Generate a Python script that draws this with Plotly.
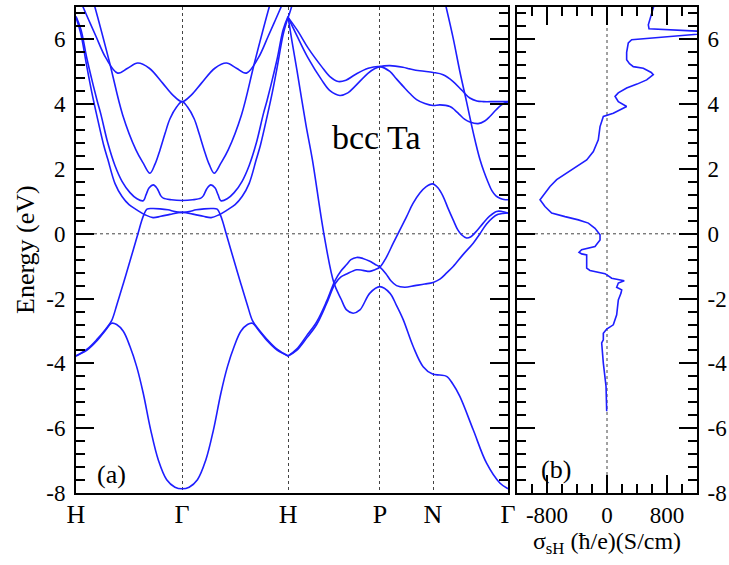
import plotly.graph_objects as go

# ---------------- data ----------------
K_POINTS = [0.0, 1.0, 2.0, 2.866, 3.366, 4.073]
K_LABELS = ["H", "Γ", "H", "P", "N", "Γ"]
E_TICKS = [-8, -6, -4, -2, 0, 2, 4, 6]
E_TICK_TEXT = ["-8", "-6", "-4", "-2", "0", "2", "4", "6"]
E_MINOR_STEP = 0.4
SIGMA_TICKS = [-800, 0, 800]
SIGMA_TICK_TEXT = ["-800", "0", "800"]
SIGMA_MINOR_STEP = 200

# bands along H-Γ-H  (k, E in eV)
band_A = [(0, -3.77), (0.101, -3.60), (0.198, -3.30), (0.273, -3.00), (0.336, -2.76), (0.383, -2.80),
          (0.446, -3.01), (0.509, -3.48), (0.572, -4.10), (0.634, -4.92), (0.704, -6.05), (0.776, -6.98),
          (0.855, -7.59), (0.933, -7.82), (1.0, -7.87), (1.067, -7.82), (1.145, -7.59), (1.224, -6.98),
          (1.296, -6.05), (1.366, -4.92), (1.428, -4.10), (1.491, -3.48), (1.554, -3.01), (1.617, -2.80),
          (1.664, -2.76), (1.727, -3.00), (1.802, -3.30), (1.899, -3.60), (2.0, -3.77)]
band_B = [(0, -3.77), (0.101, -3.57), (0.198, -3.26), (0.283, -2.93), (0.336, -2.68), (0.386, -2.18),
          (0.452, -1.47), (0.509, -0.84), (0.584, 0.0), (0.617, 0.38), (0.641, 0.60), (0.669, 0.76),
          (0.716, 0.78), (0.792, 0.77), (0.867, 0.74), (0.933, 0.69), (1.0, 0.66), (1.067, 0.69),
          (1.133, 0.74), (1.208, 0.77), (1.284, 0.78), (1.331, 0.76), (1.359, 0.60), (1.383, 0.38),
          (1.416, 0.0), (1.491, -0.84), (1.548, -1.47), (1.614, -2.18), (1.664, -2.68), (1.717, -2.93),
          (1.802, -3.26), (1.899, -3.57), (2.0, -3.77)]
band_C = [(0, 6.71), (0.047, 6.3), (0.1, 5.45), (0.15, 4.75), (0.2, 4.1), (0.236, 3.67), (0.3, 2.8),
          (0.368, 2.1), (0.434, 1.62), (0.509, 1.27), (0.575, 1.08), (0.634, 1.02), (0.66, 1.2),
          (0.69, 1.42), (0.729, 1.51), (0.765, 1.40), (0.80, 1.17), (0.823, 1.10), (0.9, 1.05),
          (1.0, 1.03), (1.1, 1.05), (1.177, 1.10), (1.2, 1.17), (1.235, 1.40), (1.271, 1.51),
          (1.31, 1.42), (1.34, 1.2), (1.366, 1.02), (1.425, 1.08), (1.491, 1.27), (1.566, 1.62),
          (1.632, 2.1), (1.7, 2.8), (1.764, 3.67), (1.8, 4.1), (1.85, 4.75), (1.9, 5.45), (1.953, 6.3),
          (2.0, 6.71)]
band_D = [(0, 6.68), (0.047, 6.15), (0.1, 5.2), (0.15, 4.35), (0.195, 3.67), (0.26, 2.75), (0.3, 2.3),
          (0.368, 1.55), (0.434, 1.15), (0.5, 0.9), (0.572, 0.74), (0.65, 0.59), (0.726, 0.50),
          (0.8, 0.54), (0.886, 0.60), (1.0, 0.66), (1.114, 0.60), (1.2, 0.54), (1.274, 0.50),
          (1.35, 0.59), (1.428, 0.74), (1.5, 0.9), (1.566, 1.15), (1.632, 1.55), (1.7, 2.3), (1.74, 2.75),
          (1.805, 3.67), (1.85, 4.35), (1.9, 5.2), (1.953, 6.15), (2.0, 6.68)]
band_E = [(0, 7.5), (0.057, 7.07), (0.12, 6.6), (0.189, 6.09), (0.283, 5.42), (0.393, 4.96),
          (0.487, 5.11), (0.582, 5.27), (0.691, 5.11), (0.817, 4.65), (0.911, 4.29), (1.0, 4.08),
          (1.089, 4.29), (1.183, 4.65), (1.309, 5.11), (1.418, 5.27), (1.513, 5.11), (1.607, 4.96),
          (1.717, 5.42), (1.811, 6.09), (1.88, 6.6), (1.943, 7.07), (2.0, 7.5)]
band_F = [(0.09, 7.95), (0.172, 7.07), (0.314, 5.32), (0.44, 3.67), (0.565, 2.59), (0.634, 2.18),
          (0.697, 1.87), (0.745, 2.15), (0.792, 2.59), (0.84, 3.1), (0.886, 3.55), (0.95, 3.92),
          (1.0, 4.08), (1.05, 3.92), (1.114, 3.55), (1.16, 3.1), (1.208, 2.59), (1.255, 2.15),
          (1.303, 1.87), (1.366, 2.18), (1.435, 2.59), (1.56, 3.67), (1.686, 5.32), (1.828, 7.07),
          (1.91, 7.95)]

# bands along H-P-N-Γ
band_J = [(2.0, 6.68), (2.036, 7.05), (2.075, 7.7)]
band_I = [(2.0, 6.68), (2.036, 5.95), (2.083, 5.05), (2.168, 3.36), (2.229, 2.28), (2.337, 0.0),
          (2.432, -1.52), (2.50, -2.02), (2.551, -2.35), (2.613, -2.45), (2.677, -2.35), (2.771, -1.83),
          (2.865, -1.63), (2.959, -1.83), (3.02, -2.2), (3.085, -2.65), (3.179, -3.48), (3.273, -4.10),
          (3.362, -4.33), (3.43, -4.36), (3.494, -4.40), (3.55, -4.62), (3.619, -5.02), (3.745, -6.05),
          (3.871, -7.08), (3.996, -7.69), (4.073, -7.87)]
band_HP_upper = [(2.0, -3.77), (2.08, -3.56), (2.174, -3.15), (2.269, -2.72), (2.363, -2.08),
                 (2.441, -1.45), (2.498, -1.15), (2.552, -0.95), (2.592, -0.80), (2.646, -0.73),
                 (2.705, -0.76), (2.771, -0.85), (2.818, -0.94), (2.865, -1.03), (2.922, -1.23),
                 (2.969, -1.45), (3.022, -1.60), (3.1, -1.65), (3.195, -1.60), (3.289, -1.55),
                 (3.367, -1.50), (3.431, -1.40), (3.497, -1.20), (3.556, -1.01), (3.647, -0.65),
                 (3.745, -0.29), (3.808, 0.0), (3.871, 0.30), (3.93, 0.50), (3.98, 0.60), (4.025, 0.63),
                 (4.073, 0.64)]
band_HP_lower = [(2.0, -3.77), (2.08, -3.60), (2.174, -3.22), (2.269, -2.80), (2.363, -2.15),
                 (2.441, -1.55), (2.498, -1.33), (2.552, -1.24), (2.646, -1.11), (2.705, -1.13),
                 (2.771, -1.16), (2.818, -1.11), (2.865, -1.03), (2.922, -0.75), (2.991, -0.29),
                 (3.054, 0.12), (3.117, 0.53), (3.176, 0.93), (3.242, 1.26), (3.299, 1.45), (3.362, 1.54),
                 (3.412, 1.42), (3.462, 1.15), (3.506, 0.80), (3.556, 0.43), (3.6, 0.12), (3.635, -0.03),
                 (3.682, -0.13), (3.723, -0.09), (3.77, 0.06), (3.839, 0.33), (3.902, 0.55), (3.965, 0.69),
                 (4.015, 0.69), (4.073, 0.64)]
band_G = [(2.0, 6.68), (2.095, 6.24), (2.189, 5.73), (2.316, 5.16), (2.394, 4.85), (2.472, 4.70),
          (2.545, 4.74), (2.63, 4.91), (2.755, 5.11), (2.865, 5.16), (2.959, 5.01), (3.016, 4.80),
          (3.085, 4.55), (3.148, 4.33), (3.211, 4.14), (3.289, 4.02), (3.367, 3.96), (3.431, 3.98),
          (3.525, 3.93), (3.572, 3.82), (3.619, 3.67), (3.666, 3.53), (3.713, 3.45), (3.791, 3.40),
          (3.854, 3.48), (3.902, 3.62), (3.959, 3.82), (4.012, 3.98), (4.073, 4.08)]
band_Hb = [(2.0, 6.68), (2.079, 6.14), (2.189, 5.42), (2.316, 4.75), (2.394, 4.42), (2.488, 4.27),
           (2.563, 4.35), (2.63, 4.55), (2.755, 4.96), (2.818, 5.10), (2.865, 5.16), (2.959, 5.19),
           (3.082, 5.14), (3.148, 5.09), (3.242, 5.03), (3.367, 4.98), (3.461, 4.91), (3.556, 4.70),
           (3.635, 4.44), (3.713, 4.19), (3.779, 4.10), (3.839, 4.08), (3.95, 4.08), (4.073, 4.08)]
band_K = [(3.468, 7.3), (3.556, 6.04), (3.619, 5.01), (3.682, 4.08), (3.729, 3.36), (3.77, 2.78),
          (3.808, 2.30), (3.846, 1.92), (3.884, 1.60), (3.921, 1.33), (3.959, 1.17), (3.996, 1.10),
          (4.034, 1.06), (4.073, 1.05)]

BANDS = [band_A, band_B, band_C, band_D, band_E, band_F, band_J, band_I,
         band_HP_upper, band_HP_lower, band_G, band_Hb, band_K]

# spin Hall conductivity (S/cm) vs energy (eV)
shc_sigma = [627, 590, 551, 560, 1500, 329, 284, 262, 262, 300, 351, 484, 590, 617, 529, 400, 262,
             150, 107, 129, 151, 262, 180, 84, -49, -93, -116, -182, -271, -404, -538, -671, -760,
             -849, -893, -827, -738, -560, -382, -249, -160, -93, -93, -160, -338, -373, -338, -271,
             -271, -227, -27, 18, 62, 230, 151, 129, 196, 187, 151, 129, 84, -4, -49, -49, -71, -49,
             -13, -4]
shc_energy = [7.05, 6.75, 6.45, 6.33, 6.22, 5.99, 5.89, 5.6, 5.37, 5.25, 5.16, 5.11, 4.98, 4.91,
              4.75, 4.62, 4.50, 4.35, 4.24, 4.16, 4.08, 3.93, 3.83, 3.72, 3.62, 3.31, 2.90, 2.54,
              2.28, 2.08, 1.87, 1.67, 1.46, 1.20, 1.05, 0.84, 0.64, 0.53, 0.43, 0.33, 0.17, -0.03,
              -0.19, -0.39, -0.49, -0.57, -0.62, -0.65, -1.06, -1.13, -1.23, -1.30, -1.37, -1.45,
              -1.52, -1.65, -1.73, -1.83, -2.04, -2.50, -2.81, -2.94, -3.07, -3.27, -3.37, -3.99,
              -4.71, -5.48]

# ---------------- style ----------------
BLUE = "rgb(30,30,255)"
SERIF = "Liberation Serif"
W, H = 729, 565
E_RANGE = [-8, 7]
SIGMA_RANGE = [-1200, 1200]

fig = go.Figure()
for band in BANDS:
    fig.add_trace(go.Scatter(
        x=[p[0] for p in band], y=[p[1] for p in band], mode="lines",
        line=dict(color=BLUE, width=1.6, shape="spline", smoothing=1.0),
        xaxis="x", yaxis="y", showlegend=False, hoverinfo="skip"))

fig.add_trace(go.Scatter(
    x=shc_sigma, y=shc_energy, mode="lines",
    line=dict(color=BLUE, width=1.6),
    xaxis="x2", yaxis="y2", showlegend=False, hoverinfo="skip"))

ydomain = [72 / H, 558 / H]
tickfont = dict(size=23, family=SERIF, color="black")


def tick_style(minor_step):
    return dict(ticks="inside", ticklen=18, tickwidth=2, tickcolor="black", mirror="allticks",
                minor=dict(ticks="inside", ticklen=9, tickwidth=2, tickcolor="black",
                           dtick=minor_step, tick0=0),
                showline=True, linecolor="black", linewidth=2, zeroline=False, showgrid=False)


fig.update_layout(
    template="none",
    width=W, height=H, margin=dict(l=0, r=0, t=0, b=0),
    plot_bgcolor="rgba(0,0,0,0)", paper_bgcolor="white",
    font=dict(family=SERIF, color="black", size=22),
    xaxis=dict(domain=[76 / W, 508 / W], range=[K_POINTS[0], K_POINTS[-1]], anchor="y",
               tickmode="array", tickvals=K_POINTS, ticktext=K_LABELS, ticks="",
               ticklabelstandoff=-3,
               showline=True, linecolor="black", linewidth=2, mirror=True, zeroline=False,
               showgrid=True, gridcolor="#444", gridwidth=1, griddash="dot",
               tickfont=dict(size=26, family=SERIF, color="black")),
    yaxis=dict(domain=ydomain, range=E_RANGE, anchor="x",
               tickmode="array", tickvals=E_TICKS, ticktext=E_TICK_TEXT, tickfont=tickfont,
               ticklabelstandoff=4, **tick_style(E_MINOR_STEP)),
    xaxis2=dict(domain=[517 / W, 697 / W], range=SIGMA_RANGE, anchor="y2",
                tickmode="array", tickvals=SIGMA_TICKS, ticktext=SIGMA_TICK_TEXT, tickfont=tickfont,
                **tick_style(SIGMA_MINOR_STEP),
                title=dict(text="σ<sub>sH</sub> (ħ/e)(S/cm)",
                           font=dict(size=24, family=SERIF, color="black"), standoff=6)),
    yaxis2=dict(domain=ydomain, range=E_RANGE, anchor="x2", side="right",
                tickmode="array", tickvals=E_TICKS, ticktext=E_TICK_TEXT, tickfont=tickfont,
                ticklabelstandoff=4, **tick_style(E_MINOR_STEP)),
    shapes=[
        dict(type="line", xref="x", yref="y", x0=K_POINTS[0], x1=K_POINTS[-1], y0=0, y1=0,
             line=dict(color="#444", width=1, dash="dot"), layer="below"),
        dict(type="line", xref="x2", yref="y2", x0=SIGMA_RANGE[0], x1=SIGMA_RANGE[1], y0=0, y1=0,
             line=dict(color="#444", width=1, dash="dot"), layer="below"),
        dict(type="line", xref="x2", yref="y2", x0=0, x1=0, y0=E_RANGE[0], y1=E_RANGE[1],
             line=dict(color="#444", width=1, dash="dot"), layer="below"),
    ],
    annotations=[
        dict(text="bcc Ta", x=376.5 / W, y=1 - 137 / H, xref="paper", yref="paper",
             xanchor="center", yanchor="middle", showarrow=False,
             font=dict(size=34, family=SERIF, color="black")),
        dict(text="(a)", x=111 / W, y=1 - 474 / H, xref="paper", yref="paper",
             xanchor="center", yanchor="middle", showarrow=False,
             font=dict(size=26, family=SERIF, color="black")),
        dict(text="(b)", x=556 / W, y=1 - 469 / H, xref="paper", yref="paper",
             xanchor="center", yanchor="middle", showarrow=False,
             font=dict(size=26, family=SERIF, color="black")),
        dict(text="Energy (eV)", x=25 / W, y=1 - 250 / H, xref="paper", yref="paper",
             xanchor="center", yanchor="middle", showarrow=False, textangle=-90,
             font=dict(size=26, family=SERIF, color="black")),
    ],
)

fig.write_html("out.html")
